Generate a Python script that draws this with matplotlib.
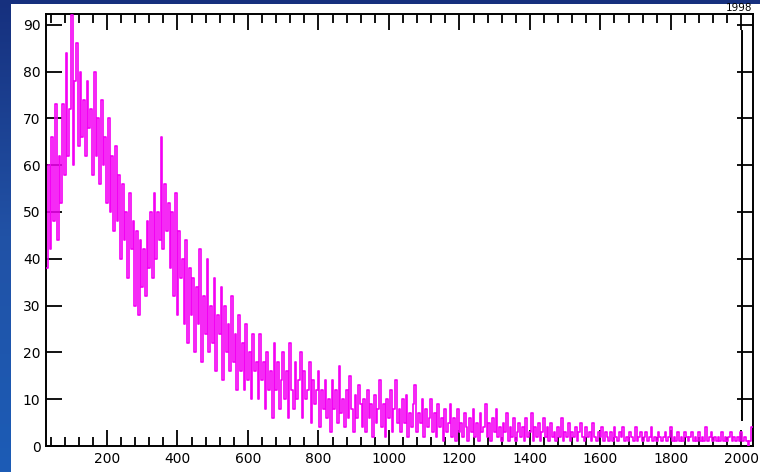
import numpy as np
import matplotlib
matplotlib.use("Agg")
import matplotlib.pyplot as plt
from matplotlib.patches import Rectangle
from matplotlib.colors import LinearSegmentedColormap
from matplotlib.ticker import MultipleLocator

# channel positions (keV) and counts
energy_start = 30
energy_step = 5
counts = [
    38, 60, 42, 66, 48, 73, 44, 62, 52, 73,
    58, 84, 62, 72, 92, 60, 78, 86, 64, 80,
    66, 74, 62, 78, 68, 72, 58, 80, 62, 70,
    56, 74, 60, 66, 52, 70, 50, 62, 46, 64,
    48, 58, 40, 56, 44, 50, 36, 54, 42, 48,
    30, 46, 28, 44, 34, 42, 32, 48, 38, 50,
    36, 54, 40, 50, 44, 66, 42, 56, 46, 52,
    38, 50, 32, 54, 28, 46, 36, 40, 26, 44,
    22, 38, 28, 36, 20, 34, 26, 42, 18, 32,
    24, 40, 20, 30, 22, 36, 16, 28, 24, 34,
    14, 30, 20, 26, 16, 32, 18, 24, 12, 28,
    16, 22, 12, 26, 14, 20, 10, 24, 16, 18,
    10, 24, 14, 18, 8, 20, 12, 16, 6, 22,
    12, 18, 8, 14, 20, 10, 16, 6, 22, 12,
    8, 18, 10, 14, 20, 6, 16, 10, 12, 18,
    5, 14, 9, 12, 16, 4, 12, 8, 14, 6,
    10, 3, 14, 8, 12, 5, 17, 7, 10, 4,
    12, 6, 15, 8, 3, 11, 6, 13, 9, 4,
    10, 3, 12, 6, 9, 2, 11, 5, 8, 14,
    4, 9, 2, 10, 6, 12, 3, 8, 14, 5,
    8, 3, 10, 5, 11, 2, 7, 4, 9, 13,
    3, 7, 5, 10, 2, 8, 4, 6, 10, 3,
    7, 2, 9, 4, 6, 1, 8, 3, 5, 9,
    2, 6, 1, 8, 3, 5, 2, 7, 4, 1,
    6, 3, 8, 2, 5, 1, 7, 3, 4, 9,
    2, 5, 1, 6, 3, 8, 2, 4, 1, 5,
    3, 7, 1, 4, 2, 6, 1, 3, 5, 2,
    4, 1, 6, 2, 3, 7, 1, 4, 2, 5,
    1, 3, 6, 2, 4, 1, 5, 2, 3, 1,
    4, 2, 6, 1, 3, 2, 5, 1, 3, 2,
    4, 1, 3, 5, 2, 1, 4, 2, 3, 1,
    5, 2, 1, 3, 2, 4, 1, 3, 2, 1,
    3, 1, 4, 2, 1, 3, 2, 4, 1, 2,
    1, 3, 2, 1, 4, 1, 2, 3, 1, 2,
    3, 1, 2, 4, 1, 2, 1, 3, 2, 1,
    2, 3, 1, 2, 4, 1, 2, 1, 3, 1,
    2, 1, 3, 2, 1, 2, 3, 1, 2, 1,
    3, 1, 2, 1, 4, 1, 2, 3, 1, 2,
    1, 2, 1, 3, 1, 2, 1, 2, 3, 1,
    2, 1, 2, 1, 3, 1, 2, 1, 0, 1,
    4,
]
energy = energy_start + energy_step * np.arange(len(counts))

x_ticks = [200, 400, 600, 800, 1000, 1200, 1400, 1600, 1800, 2000]
y_ticks = [0, 10, 20, 30, 40, 50, 60, 70, 80, 90]
year_label = "1998"

W, H = 760, 472
fig = plt.figure(figsize=(W / 100, H / 100), dpi=100)

# background gradient + white panel
bg = fig.add_axes([0, 0, 1, 1], zorder=-10)
cmap = LinearSegmentedColormap.from_list("bg", ["#16307e", "#2152a6", "#1c5cb6"])
grad = np.linspace(0, 1, 256).reshape(-1, 1)
bg.imshow(grad, aspect="auto", cmap=cmap, extent=[0, 1, 0, 1], origin="upper")
bg.add_patch(Rectangle((11 / W, 0), 1 - 11 / W, (H - 4) / H,
                       transform=bg.transAxes, facecolor="white", edgecolor="none"))
bg.set_xlim(0, 1)
bg.set_ylim(0, 1)
bg.axis("off")

left, right = 46 / W, 753 / W
top, bottom = 1 - 14 / H, 1 - 446 / H
ax = fig.add_axes([left, bottom, right - left, top - bottom])
ax.set_facecolor("none")

ax.plot(energy, counts, color="#f400f4", lw=1.2, drawstyle="steps-mid", zorder=3)

# inner right-hand vertical marker line
ax.plot([2001, 2001], [5.5, 88.6], color="black", lw=1.4, zorder=4, clip_on=False)

ax.set_xlim(27, 2033)
ax.set_ylim(0, 92.3)

ax.set_xticks(x_ticks)
ax.set_xticklabels([str(v) for v in x_ticks])
ax.xaxis.set_minor_locator(MultipleLocator(40))
ax.set_yticks(y_ticks)
ax.set_yticklabels([str(v) for v in y_ticks])

for s in ax.spines.values():
    s.set_color("black")
    s.set_linewidth(1.4)

ax.tick_params(axis="x", which="major", direction="in", length=11.5, width=1.3,
               top=True, bottom=True, labelsize=10, pad=4, colors="black")
ax.tick_params(axis="x", which="minor", direction="in", length=6.5, width=1.3,
               top=True, bottom=True)
ax.tick_params(axis="y", which="major", direction="in", length=11.5, width=1.3,
               left=True, right=True, labelsize=10, pad=4, colors="black")
ax.tick_params(axis="y", which="minor", left=False, right=False)

fig.text(752 / W, 1 - 3 / H, year_label, ha="right", va="top", fontsize=7.5,
         color="black")

fig.savefig("out.png", dpi=100)
